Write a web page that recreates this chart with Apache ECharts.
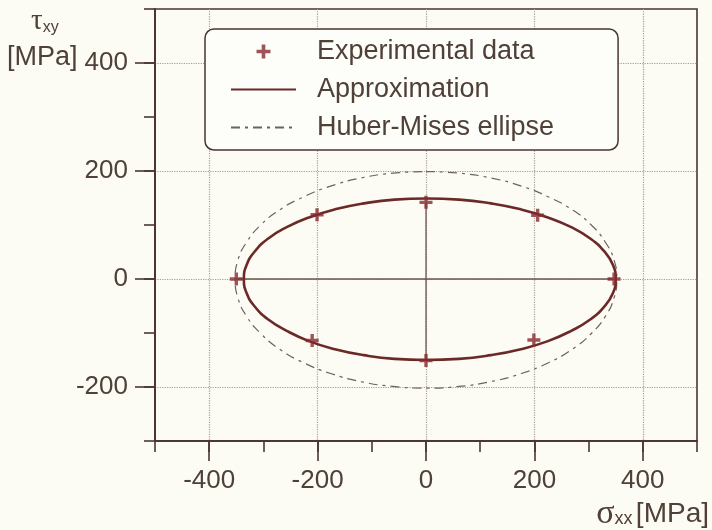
<!DOCTYPE html>
<html>
<head>
<meta charset="utf-8">
<script src="https://cdn.jsdelivr.net/npm/echarts@6/dist/echarts.min.js"></script>
<style>
  html, body { margin: 0; padding: 0; background: #fcfbf4; }
  #chart { width: 712px; height: 530px; }
</style>
</head>
<body>
<div id="chart"></div>
<script>
// Measured points (sigma_xx, tau_xy) in MPa
const experimental = [
  [-350, 0], [-201, 119], [0, 142], [206, 118],
  [347, 0], [199, -113], [0, -151], [-210, -114]
];

// Fitted yield curve, traced clockwise from the top
const approximation = [
  [0, 149], [61, 147], [120, 140], [175, 129], [225, 114], [268, 96],
  [303, 75], [329, 51], [345, 26], [350, 0], [345, -26], [329, -51],
  [303, -75], [268, -96], [225, -115], [175, -130], [120, -141], [61, -148],
  [0, -150], [-58, -148], [-115, -141], [-168, -130], [-216, -115], [-257, -96],
  [-291, -75], [-316, -51], [-331, -26], [-336, 0], [-331, 26], [-316, 51],
  [-291, 75], [-257, 96], [-216, 114], [-168, 129], [-115, 140], [-58, 147],
  [0, 149]
];

// Huber-Mises ellipse, traced clockwise from the top
const huberMises = [
  [0, 199], [61, 196], [120, 187], [176, 172], [226, 152], [270, 128],
  [305, 100], [331, 68], [347, 35], [352, 0], [347, -35], [331, -69],
  [305, -101], [270, -130], [226, -155], [176, -175], [120, -190], [61, -199],
  [0, -202], [-61, -199], [-120, -190], [-176, -175], [-226, -155], [-270, -130],
  [-305, -101], [-331, -69], [-347, -35], [-352, 0], [-347, 35], [-331, 68],
  [-305, 100], [-270, 128], [-226, 152], [-176, 172], [-120, 187], [-61, 196],
  [0, 199]
];

const xMajorTicks = [-400, -200, 0, 200, 400];
const yMajorTicks = [-200, 0, 200, 400];
const seriesNames = ['Experimental data', 'Approximation', 'Huber-Mises ellipse'];

const INK = '#4a3530';
const TEXT = '#4f4038';
const GRID = '#a79e96';
const FONT = '"Liberation Sans", Arial, sans-serif';
const SERIF = '"Liberation Serif", "DejaVu Serif", serif';

// plus-shaped marker
const PLUS = 'path://M3.7,0 H6.3 V3.7 H10 V6.3 H6.3 V10 H3.7 V6.3 H0 V3.7 H3.7 Z';

// thin solid lines joining opposite measurement points
const horizontalPath = [experimental[0], experimental[4]];
const verticalPath = [experimental[2], experimental[6]];

const chart = echarts.init(document.getElementById('chart'), null, { renderer: 'canvas' });

const majorX = {
  type: 'value', min: -500, max: 500, interval: 100,
  axisLine: { onZero: false, lineStyle: { color: INK, width: 1.6 } },
  axisTick: { customValues: xMajorTicks, length: 20, lineStyle: { color: INK, width: 1.6 } },
  axisLabel: { customValues: xMajorTicks, margin: 27, fontSize: 26, fontFamily: FONT, color: TEXT },
  splitLine: { show: true, lineStyle: { color: GRID, type: 'dotted', width: 1.2 } }
};
const minorX = {
  type: 'value', min: -500, max: 500, interval: 100, position: 'bottom',
  axisLine: { onZero: false, lineStyle: { color: INK, width: 1.6 } },
  axisTick: { length: 11, lineStyle: { color: INK, width: 1.6 } },
  axisLabel: { show: false },
  splitLine: { show: false }
};
const majorY = {
  type: 'value', min: -300, max: 500, interval: 100,
  axisLine: { onZero: false, lineStyle: { color: INK, width: 1.6 } },
  axisTick: { customValues: yMajorTicks, length: 20, lineStyle: { color: INK, width: 1.6 } },
  axisLabel: { customValues: yMajorTicks, margin: 27, fontSize: 26, fontFamily: FONT, color: TEXT },
  splitLine: { show: true, lineStyle: { color: GRID, type: 'dotted', width: 1.2 } }
};
const minorY = {
  type: 'value', min: -300, max: 500, interval: 100, position: 'left',
  axisLine: { onZero: false, lineStyle: { color: INK, width: 1.6 } },
  axisTick: { length: 11, lineStyle: { color: INK, width: 1.6 } },
  axisLabel: { show: false },
  splitLine: { show: false }
};

// legend entries for the curves show only the line, no marker
const hiddenMarker = { opacity: 0, color: 'transparent', borderWidth: 0 };

chart.setOption({
  backgroundColor: '#fcfbf4',
  animation: false,
  grid: {
    left: 155, top: 9, right: 15, bottom: 89,
    show: true, borderColor: INK, borderWidth: 1.6, backgroundColor: 'transparent'
  },
  xAxis: [majorX, minorX],
  yAxis: [majorY, minorY],
  legend: {
    orient: 'vertical',
    left: 205, top: 29,
    data: [
      { name: seriesNames[0] },
      { name: seriesNames[1], itemStyle: hiddenMarker },
      { name: seriesNames[2], itemStyle: hiddenMarker }
    ],
    itemWidth: 65, itemHeight: 14, itemGap: 11,
    padding: [9, 64, 9, 25],
    backgroundColor: '#fdfdf9',
    borderColor: INK, borderWidth: 1.5, borderRadius: 9,
    textStyle: { fontSize: 27, fontFamily: FONT, color: TEXT, padding: [0, 0, 0, 16], lineHeight: 27 },
    z: 10
  },
  graphic: [
    {
      type: 'text', left: 31, top: 7,
      style: {
        text: '{t|τ}{s|xy}',
        rich: {
          t: { fontSize: 29, fontFamily: SERIF, fill: TEXT },
          s: { fontSize: 16, fontFamily: FONT, fill: TEXT, padding: [12, 0, 0, 0] }
        }
      }
    },
    {
      type: 'text', left: 7, top: 44,
      style: { text: '[MPa]', fontSize: 27, fontFamily: FONT, fill: TEXT }
    },
    {
      type: 'text', right: 3, top: 497,
      style: {
        text: '{g|σ}{s|xx} {u|[MPa]}',
        rich: {
          g: { fontSize: 34, fontFamily: SERIF, fill: TEXT },
          s: { fontSize: 18, fontFamily: FONT, fill: TEXT, padding: [10, 0, 0, 0] },
          u: { fontSize: 28, fontFamily: FONT, fill: TEXT }
        }
      }
    }
  ],
  series: [
    {
      name: 'path-h', type: 'line', data: horizontalPath, symbol: 'none', silent: true,
      lineStyle: { color: '#6a5650', width: 1.3 }, z: 1
    },
    {
      name: 'path-v', type: 'line', data: verticalPath, symbol: 'none', silent: true,
      lineStyle: { color: '#6a5650', width: 1.3 }, z: 1
    },
    {
      name: seriesNames[2], type: 'line', data: huberMises, symbol: 'none', smooth: 0.5,
      lineStyle: { color: '#6f625c', width: 1.2, type: [9, 5, 3, 5] }, z: 2
    },
    {
      name: seriesNames[1], type: 'line', data: approximation, symbol: 'none', smooth: 0.5,
      lineStyle: { color: '#6b2a27', width: 2.6 }, itemStyle: { color: '#6b2a27' }, z: 3
    },
    {
      name: seriesNames[0], type: 'scatter', data: experimental,
      symbol: PLUS, symbolSize: 13,
      itemStyle: { color: '#862b30' }, z: 4
    }
  ]
});
</script>
</body>
</html>
